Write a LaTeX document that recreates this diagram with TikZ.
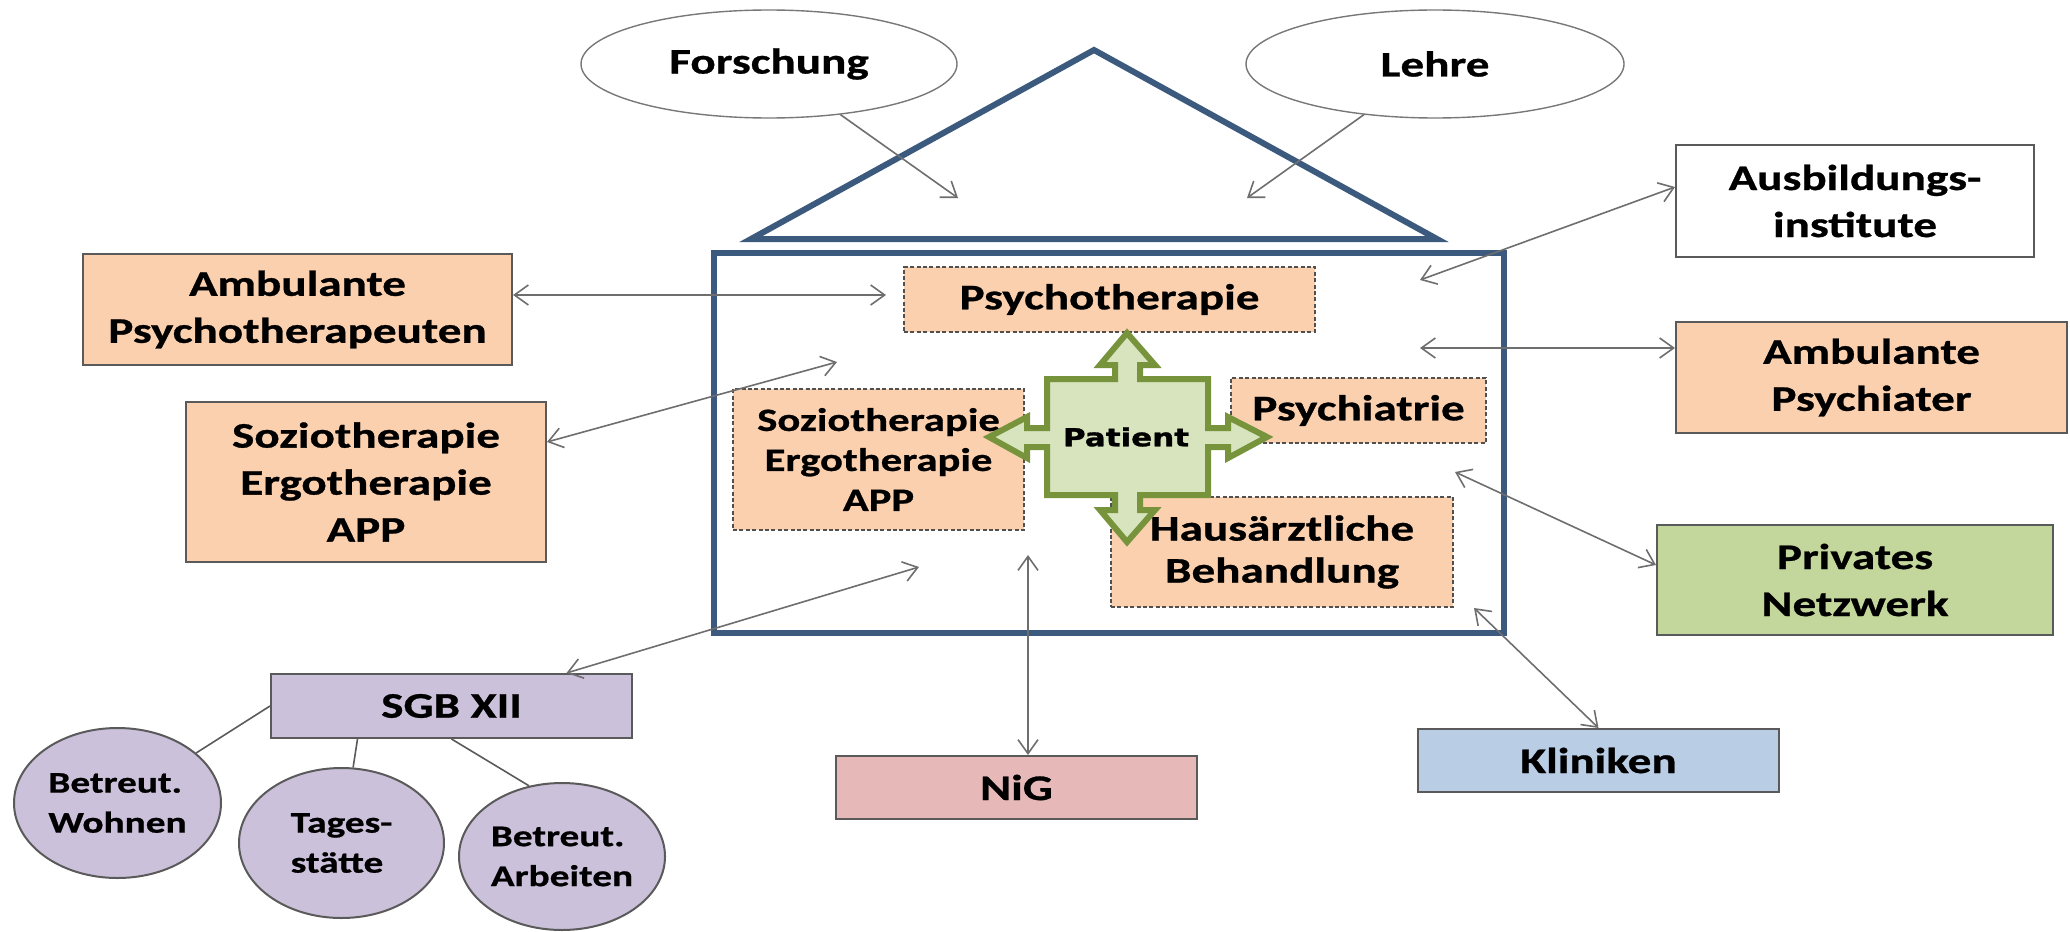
\documentclass[tikz,border=0pt]{standalone}
\usepackage{fontspec}
\setmainfont{Carlito}[FakeStretch=1.31,BoldFeatures={FakeBold=0.8}]
\newfontfamily\patfont{DejaVu Sans}[UprightFont=* Bold,BoldFont=* Bold,FakeStretch=1.25,FakeBold=1.2]
\usetikzlibrary{arrows.meta,calc,shapes.geometric}
\definecolor{peach}{RGB}{250,208,175}
\definecolor{olive}{RGB}{195,214,155}
\definecolor{patfill}{RGB}{215,228,189}
\definecolor{patline}{RGB}{119,147,60}
\definecolor{klinblue}{RGB}{185,205,229}
\definecolor{nigpink}{RGB}{230,185,184}
\definecolor{sgbpurple}{RGB}{204,193,218}
\definecolor{housecol}{RGB}{59,90,126}
\definecolor{boxline}{RGB}{90,90,90}
\definecolor{dashline}{RGB}{80,80,80}
\definecolor{arrowgray}{RGB}{110,110,110}
\definecolor{ellgray}{RGB}{120,120,120}
\newcommand\diagfont{\fontsize{18}{23.5}\selectfont\bfseries}
\newcommand\innerfont{\fontsize{18}{21}\selectfont\bfseries}
\newcommand\smallinner{\fontsize{16.3}{20}\selectfont\bfseries}
\newcommand\circfont{\fontsize{15}{20}\selectfont\bfseries}
\begin{document}
\begin{tikzpicture}[x=0.5pt,y=-0.5pt,
  box/.style={draw=boxline, line width=1pt, inner sep=0pt, align=center, font=\diagfont},
  dbox/.style={draw=dashline, line width=0.7pt, dash pattern=on 2pt off 1.2pt, fill=peach, inner sep=0pt, align=center, font=\innerfont},
  ell/.style={ellipse, draw=ellgray, line width=0.7pt, fill=white, inner sep=0pt, font=\diagfont},
  circ/.style={ellipse, draw=boxline, line width=1pt, fill=sgbpurple, inner sep=0pt, align=left, font=\circfont},
  house/.style={draw=housecol, line width=3pt},
  conn/.style={draw=arrowgray, line width=0.8pt, {Straight Barb[length=7pt,width=10pt]}-{Straight Barb[length=7pt,width=10pt]}},
  one/.style={draw=arrowgray, line width=0.8pt, -{Straight Barb[length=7pt,width=10pt]}},
  link/.style={draw=boxline, line width=0.8pt}
]
\useasboundingbox (0,0) rectangle (2070,931);

% house
\draw[house] (751,239) -- (1094,50) -- (1437,239) -- cycle;
\draw[house] (714,253) rectangle (1504,633);

% top ellipses
\node[ell, minimum width=188pt, minimum height=54pt] (F) at (769,64) {Forschung};
\node[ell, minimum width=189pt, minimum height=54pt] (L) at (1435,64) {Lehre};

% outer boxes
\node[box, fill=peach, minimum width=214.5pt, minimum height=55.5pt] (AmbPT) at (297.5,309.5) {Ambulante\\Psychotherapeuten};
\node[box, fill=peach, minimum width=180pt, minimum height=80pt] (SozOut) at (366,482) {Soziotherapie\\Ergotherapie\\APP};
\node[box, fill=white, minimum width=179pt, minimum height=56pt] (Ausb) at (1855,201) {Ausbildungs-\\institute};
\node[box, fill=peach, minimum width=195.5pt, minimum height=55.5pt] (AmbPS) at (1871.5,377.5) {Ambulante\\Psychiater};
\node[box, fill=olive, minimum width=198pt, minimum height=55pt] (Priv) at (1855,580) {Privates\\Netzwerk};
\node[box, fill=klinblue, minimum width=180.5pt, minimum height=31.5pt] (Klin) at (1598.5,760.5) {Kliniken};
\node[box, fill=nigpink, minimum width=180.5pt, minimum height=31.5pt] (NiG) at (1016.5,787.5) {NiG};
\node[box, fill=sgbpurple, minimum width=180.5pt, minimum height=32pt] (SGB) at (451.5,706) {SGB XII};

% SGB children
\node[circ, minimum width=103.5pt, minimum height=75pt] (W) at (117.5,803) {Betreut.\\Wohnen};
\node[circ, minimum width=102.5pt, minimum height=75pt] (T) at (341.5,843) {Tages-\\stätte};
\node[circ, minimum width=103pt, minimum height=73.5pt] (A) at (562,856.5) {Betreut.\\Arbeiten};
\draw[link] (SGB.west) -- (W);
\draw[link] ($(SGB.south)+(-94,0)$) -- (T);
\draw[link] (SGB.south) -- (A.115);

% inner boxes
\node[dbox, minimum width=205.5pt, minimum height=32.5pt] (PsyT) at (1109.5,299.5) {Psychotherapie};
\node[dbox, font=\smallinner, minimum width=145.5pt, minimum height=70.5pt] (SozIn) at (878.5,459.5) {Soziotherapie\\Ergotherapie\\APP};
\node[dbox, minimum width=127.5pt, minimum height=32.5pt] (Psych) at (1358.5,410.5) {Psychiatrie};
\node[dbox, minimum width=171pt, minimum height=55pt] (Haus) at (1282,552) {Hausärztliche\\Behandlung};

% patient cross
\draw[draw=patline, fill=patfill, line width=3pt, line join=miter]
  (1127,333) -- (1155,365) -- (1140,365) -- (1140,379) -- (1208,379) -- (1208,428)
  -- (1228,428) -- (1228,417) -- (1267,437) -- (1228,458) -- (1228,447) -- (1208,447)
  -- (1208,495) -- (1140,495) -- (1140,510) -- (1155,510) -- (1127,542) -- (1100,510)
  -- (1115,510) -- (1115,495) -- (1047,495) -- (1047,447) -- (1027,447) -- (1027,458)
  -- (989,437) -- (1027,417) -- (1027,428) -- (1047,428) -- (1047,379) -- (1115,379)
  -- (1115,365) -- (1100,365) -- cycle;
\node[font={\patfont\fontsize{12.4}{15}\selectfont}, inner sep=0pt] (Pat) at (1126,437) {Patient};

% connectors
\coordinate (fEnd) at (958,198);
\draw[one] (F) -- (fEnd);
\coordinate (lEnd) at (1247,198);
\draw[one] (L) -- (lEnd);
\coordinate (ausIn) at (1420,280);
\draw[conn] (ausIn) -- ($(Ausb.west)+(0,-14)$);
\coordinate (apsIn) at (1420,348);
\draw[conn] (apsIn) -- (apsIn -| AmbPS.west);
\coordinate (prIn) at (1455,472);
\draw[conn] (prIn) -- ($(Priv.west)+(0,-15)$);
\coordinate (klIn) at (1474,608);
\draw[conn] (klIn) -- (Klin.north);
\coordinate (nIn) at (1028,555);
\draw[conn] (nIn) -- (nIn |- NiG.north);
\coordinate (sgIn) at (919,567);
\draw[conn] (sgIn) -- ($(SGB.north)+(115,0)$);
\coordinate (soIn) at (837,362);
\draw[conn] (soIn) -- ($(SozOut.east)+(0,-40)$);
\coordinate (aptIn) at (886,295);
\draw[conn] (aptIn) -- (aptIn -| AmbPT.east);
\end{tikzpicture}
\end{document}
